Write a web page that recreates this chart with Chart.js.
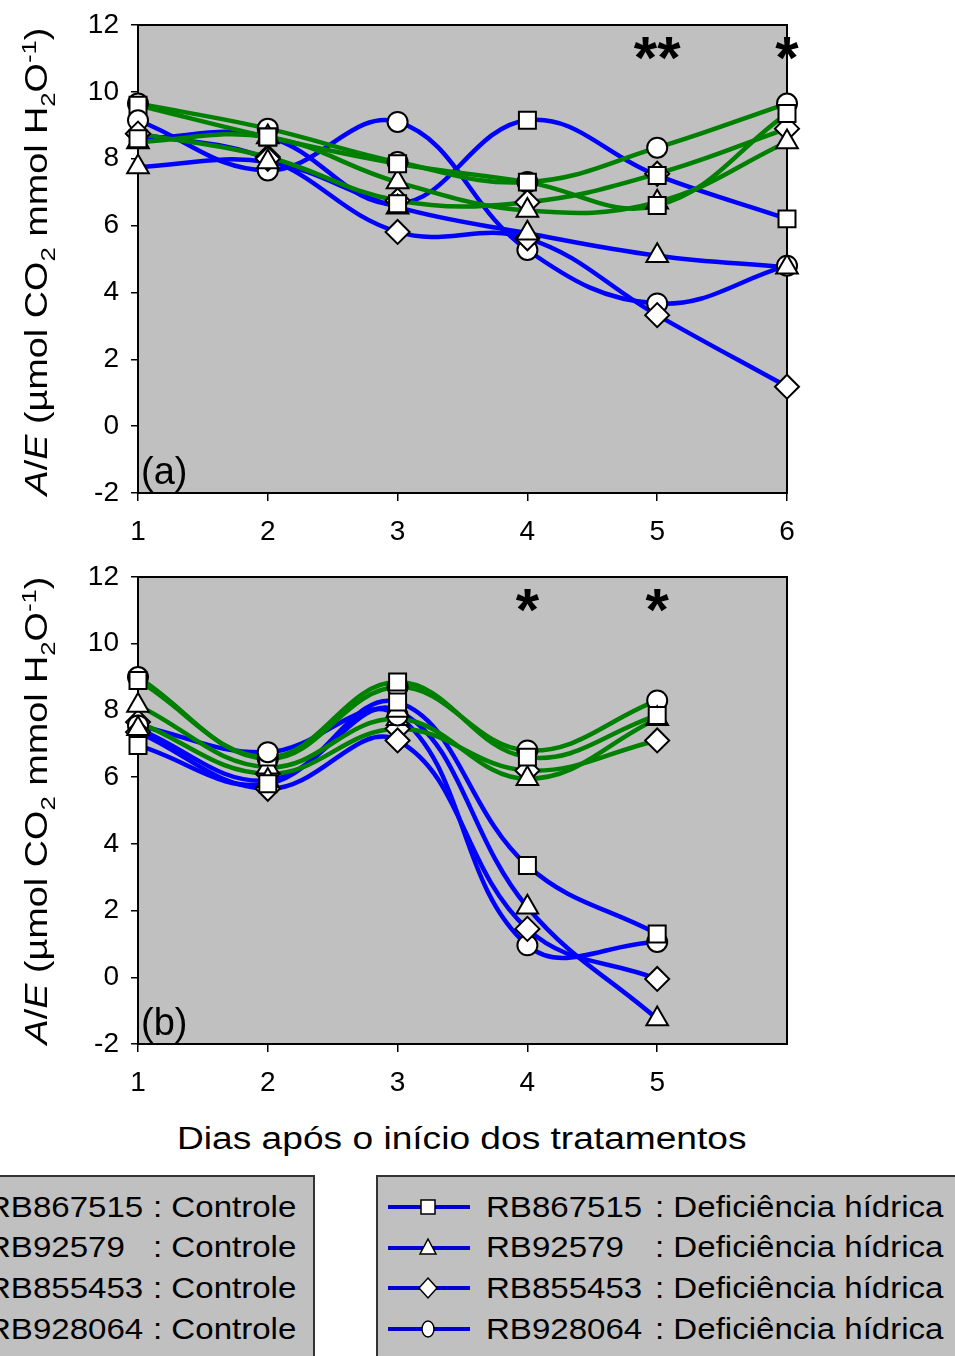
<!DOCTYPE html>
<html><head><meta charset="utf-8">
<script src="https://cdn.jsdelivr.net/npm/chart.js@4.4.1/dist/chart.umd.min.js"></script>
<style>
html,body{margin:0;padding:0;background:#fff;}
body{width:955px;height:1356px;position:relative;overflow:hidden;font-family:"Liberation Sans",Arial,sans-serif;color:#000;}
canvas{position:absolute;left:0;}
.txt{position:absolute;white-space:nowrap;line-height:1;}
.lgbox{position:absolute;background:#c0c0c0;border:2px solid #333;box-sizing:border-box;}
sub,sup{font-size:0.68em;line-height:0;}
</style>
</head><body>
<canvas id="ca" width="955" height="560" style="top:0"></canvas>
<canvas id="cb" width="955" height="560" style="top:552px"></canvas>
<div class="lgbox" style="left:-4px;top:1175px;width:319px;height:200px"></div>
<div class="lgbox" style="left:376px;top:1175px;width:620px;height:200px"></div>
<div id="overlay"></div>
<script>
// ---------- DATA ----------
const days_a = [1, 2, 3, 4, 5, 6];
const days_b = [1, 2, 3, 4, 5];
const xTicks_a = [1, 2, 3, 4, 5, 6];
const xTicks_b = [1, 2, 3, 4, 5];
const yTicks = [-2, 0, 2, 4, 6, 8, 10, 12];
const cultivars = ['RB867515', 'RB92579', 'RB855453', 'RB928064'];
const treatments = ['Controle', 'Deficiência hídrica'];

// Panel (a) - Controle (green)
const ctrl_RB867515_a = [9.6, 8.65, 7.85, 7.3, 6.6, 9.35];
const ctrl_RB92579_a  = [8.5, 8.65, 7.3, 6.45, 6.7, 8.5];
const ctrl_RB855453_a = [8.75, 8.05, 6.75, 6.7, 7.55, 8.9];
const ctrl_RB928064_a = [9.65, 8.9, 7.9, 7.3, 8.33, 9.65];
// Panel (a) - Deficiência hídrica (blue)
const def_RB867515_a = [8.6, 8.65, 6.65, 9.15, 7.5, 6.2];
const def_RB92579_a  = [7.75, 7.9, 6.55, 5.77, 5.1, 4.75];
const def_RB855453_a = [8.75, 8.0, 5.81, 5.62, 3.32, 1.18];
const def_RB928064_a = [9.15, 7.65, 9.1, 5.27, 3.67, 4.8];

// Panel (b) - Controle (green)
const ctrl_RB867515_b = [8.9, 6.6, 8.85, 6.6, 7.85];
const ctrl_RB92579_b  = [8.15, 6.3, 7.75, 5.95, 7.75];
const ctrl_RB855453_b = [7.65, 6.1, 7.45, 6.2, 7.1];
const ctrl_RB928064_b = [9.0, 6.55, 8.7, 6.8, 8.3];
// Panel (b) - Deficiência hídrica (blue)
const def_RB867515_b = [6.95, 5.8, 8.25, 3.35, 1.3];
const def_RB92579_b  = [7.45, 5.9, 8.0, 2.1, -1.25];
const def_RB855453_b = [7.35, 5.65, 7.1, 1.45, -0.05];
const def_RB928064_b = [7.55, 6.75, 7.85, 0.96, 1.06];

// Significance marks
const starDays_a = [5, 6];
const starText_a = ['**', '*'];
const starDays_b = [4, 5];
const starText_b = ['*', '*'];
const starLevel = 11.3;

// ---------- STYLE ----------
const GREEN = '#008000', BLUE = '#0000ff', BG = '#c0c0c0';
const FONT = '"Liberation Sans", Arial, sans-serif';
const markers = ['rect', 'triangle', 'rectRot', 'circle'];
const markerRadius = {rect: 12, triangle: 12.5, rectRot: 12, circle: 10};

function buildDatasets(days, ctrl, def) {
  const ds = [];
  const groups = [[def, BLUE, 4], [ctrl, GREEN, 3]];
  groups.forEach(([series, color, lineOrder]) => {
    series.forEach((vals, i) => {
      const data = days.map((d, j) => ({x: d, y: vals[j]}));
      ds.push({data, borderColor: color, borderWidth: 4.5, pointRadius: 0, pointHoverRadius: 0,
               tension: 0.4, fill: false, clip: false, order: lineOrder});
      ds.push({data, showLine: false, pointStyle: markers[i], pointRadius: markerRadius[markers[i]],
               pointHoverRadius: markerRadius[markers[i]],
               pointBackgroundColor: '#fff', pointBorderColor: '#000', pointBorderWidth: 2,
               clip: false, order: 1});
    });
  });
  return ds;
}

const panelPlugin = {
  id: 'panel',
  beforeDraw(chart) {
    const {ctx, chartArea: a} = chart;
    ctx.save();
    ctx.fillStyle = BG;
    ctx.fillRect(a.left, a.top, a.right - a.left, a.bottom - a.top);
    ctx.restore();
  },
  beforeDatasetsDraw(chart, args, opts) {
    const {ctx, chartArea: a} = chart;
    ctx.save();
    ctx.strokeStyle = '#000';
    ctx.lineWidth = 2;
    ctx.strokeRect(a.left, a.top, a.right - a.left, a.bottom - a.top);
    ctx.fillStyle = '#000';
    ctx.font = '38px ' + FONT;
    ctx.textAlign = 'left';
    ctx.textBaseline = 'alphabetic';
    ctx.fillText(opts.label, a.left + 3, a.bottom - 9);
    ctx.restore();
  },
  afterDatasetsDraw(chart, args, opts) {
    const {ctx} = chart;
    const xs = chart.scales.x, ys = chart.scales.y;
    ctx.save();
    ctx.fillStyle = '#000';
    ctx.textAlign = 'center';
    ctx.textBaseline = 'alphabetic';
    let size = 60;
    ctx.font = 'bold ' + size + 'px ' + FONT;
    let m = ctx.measureText('*');
    const h = m.actualBoundingBoxAscent + m.actualBoundingBoxDescent;
    size = size * 23 / h;
    ctx.font = 'bold ' + size + 'px ' + FONT;
    m = ctx.measureText('*');
    const off = (m.actualBoundingBoxDescent - m.actualBoundingBoxAscent) / 2;
    opts.days.forEach((d, i) => {
      const cx = xs.getPixelForValue(d);
      const cy = ys.getPixelForValue(starLevel);
      ctx.fillText(opts.texts[i], cx, cy - off);
    });
    ctx.restore();
  }
};

function makeChart(id, days, xTicks, ctrl, def, label, starDays, starTexts, xHeight) {
  const tickFont = {family: FONT, size: 28};
  return new Chart(document.getElementById(id), {
    type: 'line',
    data: {datasets: buildDatasets(days, ctrl, def)},
    options: {
      responsive: false, animation: false, devicePixelRatio: 1,
      layout: {padding: {top: 25, right: 168, left: 0, bottom: 0}},
      plugins: {legend: {display: false}, tooltip: {enabled: false},
                panel: {label, days: starDays, texts: starTexts}},
      events: [],
      scales: {
        x: {
          type: 'linear', min: 1, max: 6,
          afterBuildTicks: s => { s.ticks = xTicks.map(v => ({value: v})); },
          afterFit: s => { s.height = xHeight; s.paddingLeft = 0; s.paddingRight = 0; },
          ticks: {font: tickFont, color: '#000', padding: 14, maxRotation: 0, autoSkip: false},
          grid: {drawOnChartArea: false, drawTicks: true, tickLength: 8, color: '#000', lineWidth: 1.5},
          border: {display: true, color: '#000', width: 2}
        },
        y: {
          min: -2, max: 12,
          afterBuildTicks: s => { s.ticks = yTicks.map(v => ({value: v})); },
          afterFit: s => { s.width = 138; s.paddingTop = 0; s.paddingBottom = 0; },
          ticks: {font: tickFont, color: '#000', padding: 12},
          grid: {drawOnChartArea: false, drawTicks: true, tickLength: 7, color: '#000', lineWidth: 1.5},
          border: {display: true, color: '#000', width: 2}
        }
      }
    },
    plugins: [panelPlugin]
  });
}

makeChart('ca', days_a, xTicks_a,
  [ctrl_RB867515_a, ctrl_RB92579_a, ctrl_RB855453_a, ctrl_RB928064_a],
  [def_RB867515_a, def_RB92579_a, def_RB855453_a, def_RB928064_a],
  '(a)', starDays_a, starText_a, 67);
makeChart('cb', days_b, xTicks_b,
  [ctrl_RB867515_b, ctrl_RB92579_b, ctrl_RB855453_b, ctrl_RB928064_b],
  [def_RB867515_b, def_RB92579_b, def_RB855453_b, def_RB928064_b],
  '(b)', starDays_b, starText_b, 68);

// ---------- TEXT OVERLAY ----------
const ov = document.getElementById('overlay');
function addText(html, size, opts) {
  const el = document.createElement('div');
  el.className = 'txt';
  el.style.fontSize = size + 'px';
  el.innerHTML = html;
  ov.appendChild(el);
  const w = el.offsetWidth, h = el.offsetHeight;
  const s = opts.width ? opts.width / w : (opts.scale || 1);
  if (opts.rotate) {
    el.style.left = (opts.cx - w / 2) + 'px';
    el.style.top = (opts.cy - h / 2) + 'px';
    el.style.transformOrigin = '50% 50%';
    el.style.transform = 'rotate(-90deg) scaleX(' + s + ')';
  } else if (opts.cx !== undefined) {
    el.style.left = (opts.cx - w / 2) + 'px';
    el.style.top = (opts.cy - h / 2) + 'px';
    el.style.transformOrigin = '50% 50%';
    el.style.transform = 'scaleX(' + s + ')';
  } else {
    el.style.left = opts.left + 'px';
    el.style.top = (opts.cy - h / 2) + 'px';
    el.style.transformOrigin = '0 50%';
    el.style.transform = 'scaleX(' + s + ')';
  }
  return el;
}
const yTitle = '<i>A</i>/<i>E</i> (µmol CO<sub>2</sub> mmol H<sub>2</sub>O<sup>-1</sup>)';
addText(yTitle, 31, {rotate: true, cx: 37, cy: 261, width: 468});
addText(yTitle, 31, {rotate: true, cx: 37, cy: 810, width: 468});
addText('Dias após o início dos tratamentos', 31, {cx: 462, cy: 1138, width: 570});

const rowY = [1207, 1247.5, 1288, 1329];
const LG = 1.14;
cultivars.forEach((c, i) => {
  addText(c, 29, {left: -13, cy: rowY[i], scale: LG});
  addText(': ' + treatments[0], 29, {left: 153, cy: rowY[i], scale: LG});
  addText(c, 29, {left: 486, cy: rowY[i], scale: LG});
  addText(': ' + treatments[1], 29, {left: 655, cy: rowY[i], scale: LG});
  // legend symbol
  const svgNS = 'http://www.w3.org/2000/svg';
  const svg = document.createElementNS(svgNS, 'svg');
  svg.setAttribute('width', 90); svg.setAttribute('height', 24);
  svg.style.position = 'absolute';
  svg.style.left = '385px';
  svg.style.top = (rowY[i] - 12) + 'px';
  const ln = document.createElementNS(svgNS, 'line');
  ln.setAttribute('x1', 3); ln.setAttribute('x2', 85); ln.setAttribute('y1', 12); ln.setAttribute('y2', 12);
  ln.setAttribute('stroke', '#0000d0'); ln.setAttribute('stroke-width', 4);
  svg.appendChild(ln);
  let mk;
  const cx = 43, cy = 12;
  if (markers[i] === 'rect') {
    mk = document.createElementNS(svgNS, 'rect');
    mk.setAttribute('x', cx - 7); mk.setAttribute('y', cy - 7); mk.setAttribute('width', 14); mk.setAttribute('height', 14);
  } else if (markers[i] === 'triangle') {
    mk = document.createElementNS(svgNS, 'polygon');
    mk.setAttribute('points', `${cx},${cy-9} ${cx+8},${cy+6} ${cx-8},${cy+6}`);
  } else if (markers[i] === 'rectRot') {
    mk = document.createElementNS(svgNS, 'polygon');
    mk.setAttribute('points', `${cx},${cy-10} ${cx+9},${cy} ${cx},${cy+10} ${cx-9},${cy}`);
  } else {
    mk = document.createElementNS(svgNS, 'ellipse');
    mk.setAttribute('cx', cx); mk.setAttribute('cy', cy); mk.setAttribute('rx', 6); mk.setAttribute('ry', 8);
  }
  mk.setAttribute('fill', '#fff'); mk.setAttribute('stroke', '#000'); mk.setAttribute('stroke-width', 1.5);
  svg.appendChild(mk);
  ov.appendChild(svg);
});
</script>
</body></html>
